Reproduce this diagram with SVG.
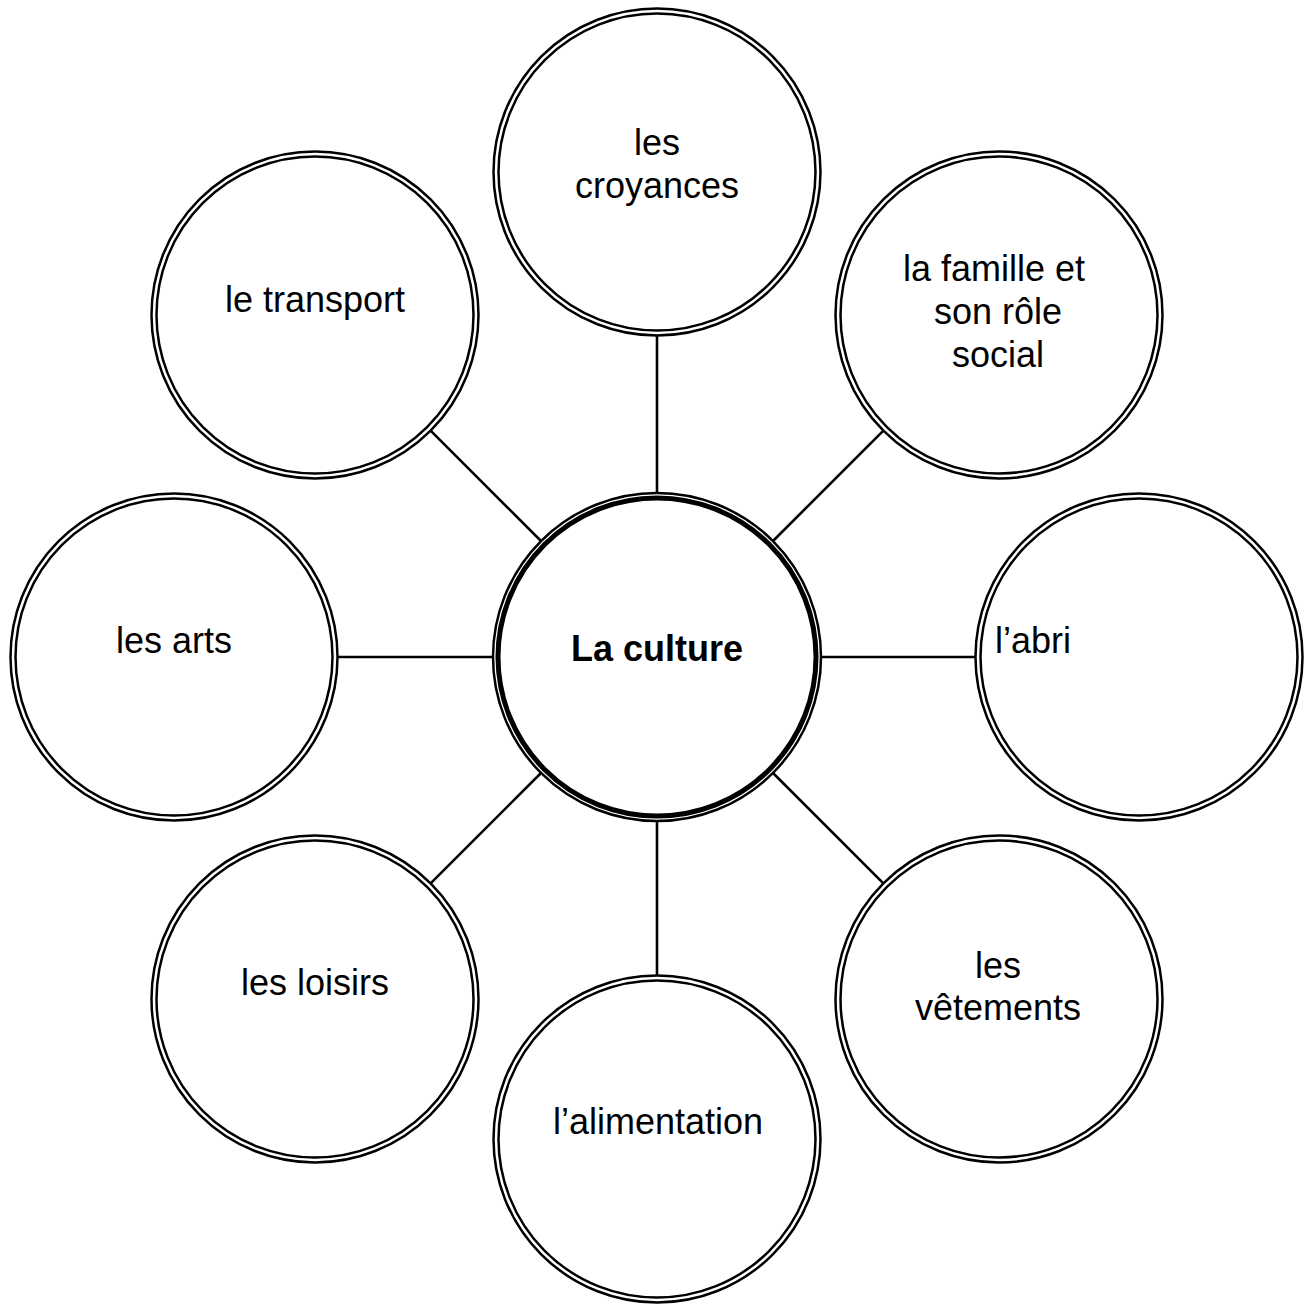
<svg xmlns="http://www.w3.org/2000/svg" width="1305" height="1304" viewBox="0 0 1305 1304">
<style>
.o{fill:none;stroke:#000;stroke-width:2.5}
.c{stroke:#000;stroke-width:2.6;fill:none}
.t{font-family:"Liberation Sans",Arial,sans-serif;font-size:36px;text-anchor:middle;fill:#000}
.b{font-weight:bold}
</style>
<rect width="1305" height="1304" fill="#fff"/>
<g id="connectors">
<line class="c" x1="657" y1="335.5" x2="657" y2="493"/>
<line class="c" x1="657" y1="821" x2="657" y2="975.5"/>
<line class="c" x1="337.5" y1="657" x2="493" y2="657"/>
<line class="c" x1="821" y1="657" x2="975.5" y2="657"/>
<line class="c" x1="430.6" y1="430.6" x2="541" y2="541"/>
<line class="c" x1="883.4" y1="430.6" x2="773" y2="541"/>
<line class="c" x1="430.6" y1="883.4" x2="541" y2="773"/>
<line class="c" x1="883.4" y1="883.4" x2="773" y2="773"/>
</g>
<g id="center">
<circle cx="657" cy="657" r="164" class="o" stroke-width="1.8"/>
<circle cx="657" cy="657" r="159" fill="none" stroke="#000" stroke-width="5"/>
<text class="t b" x="657" y="661">La culture</text>
</g>
<g id="croyances">
<circle cx="657" cy="172" r="163.5" class="o"/>
<circle cx="657" cy="172" r="158.5" class="o"/>
<text class="t" x="657" y="155">les</text>
<text class="t" x="657" y="198">croyances</text>
</g>
<g id="famille">
<circle cx="999" cy="315" r="163.5" class="o"/>
<circle cx="999" cy="315" r="158.5" class="o"/>
<text class="t" x="994" y="281">la famille et</text>
<text class="t" x="998" y="324">son rôle</text>
<text class="t" x="998" y="367">social</text>
</g>
<g id="abri">
<circle cx="1139" cy="657" r="163.5" class="o"/>
<circle cx="1139" cy="657" r="158.5" class="o"/>
<text class="t" x="1033" y="653">l’abri</text>
</g>
<g id="vetements">
<circle cx="999" cy="999" r="163.5" class="o"/>
<circle cx="999" cy="999" r="158.5" class="o"/>
<text class="t" x="998" y="978">les</text>
<text class="t" x="998" y="1020">vêtements</text>
</g>
<g id="alimentation">
<circle cx="657" cy="1139" r="163.5" class="o"/>
<circle cx="657" cy="1139" r="158.5" class="o"/>
<text class="t" x="658" y="1134">l’alimentation</text>
</g>
<g id="loisirs">
<circle cx="315" cy="999" r="163.5" class="o"/>
<circle cx="315" cy="999" r="158.5" class="o"/>
<text class="t" x="315" y="995">les loisirs</text>
</g>
<g id="arts">
<circle cx="174" cy="657" r="163.5" class="o"/>
<circle cx="174" cy="657" r="158.5" class="o"/>
<text class="t" x="174" y="653">les arts</text>
</g>
<g id="transport">
<circle cx="315" cy="315" r="163.5" class="o"/>
<circle cx="315" cy="315" r="158.5" class="o"/>
<text class="t" x="315" y="312">le transport</text>
</g>
</svg>
